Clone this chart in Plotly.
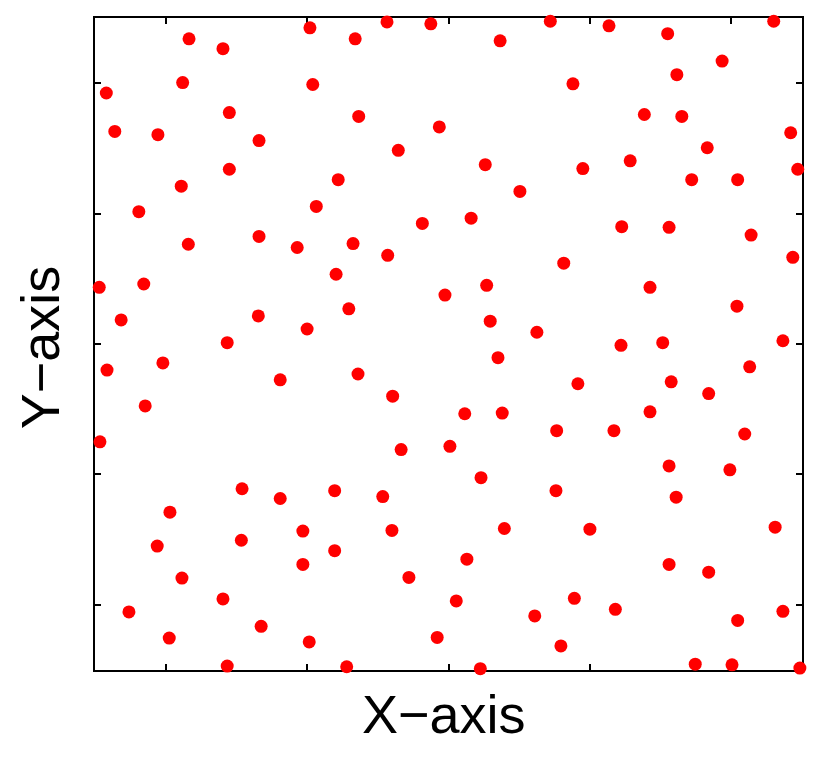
import plotly.graph_objects as go

x_vals = [
    0.133, 0.181, 0.304, 0.368, 0.413, 0.475, 0.573, 0.644, 0.727, 0.810,
    0.960, 0.016, 0.124, 0.308, 0.676, 0.823, 0.887, 0.028, 0.089, 0.190,
    0.232, 0.373, 0.429, 0.487, 0.552, 0.601, 0.690, 0.757, 0.777, 0.830,
    0.866, 0.984, 0.994, 0.844, 0.909, 0.122, 0.190, 0.062, 0.313, 0.344,
    0.132, 0.232, 0.286, 0.365, 0.414, 0.463, 0.532, 0.663, 0.745, 0.812,
    0.928, 0.987, 0.006, 0.069, 0.037, 0.231, 0.300, 0.341, 0.359, 0.495,
    0.554, 0.559, 0.625, 0.785, 0.908, 0.187, 0.017, 0.096, 0.262, 0.372,
    0.421, 0.570, 0.683, 0.744, 0.803, 0.973, 0.926, 0.815, 0.868, 0.071,
    0.007, 0.433, 0.502, 0.523, 0.576, 0.653, 0.734, 0.785, 0.919, 0.546,
    0.652, 0.812, 0.898, 0.822, 0.208, 0.262, 0.339, 0.407, 0.106, 0.088,
    0.207, 0.294, 0.339, 0.294, 0.420, 0.579, 0.526, 0.700, 0.962, 0.812,
    0.868, 0.123, 0.181, 0.048, 0.235, 0.105, 0.303, 0.187, 0.444, 0.511,
    0.678, 0.622, 0.736, 0.484, 0.659, 0.356, 0.545, 0.973, 0.909, 0.849,
    0.901, 0.997,
]

y_vals = [
    0.968, 0.953, 0.985, 0.968, 0.994, 0.991, 0.965, 0.995, 0.988, 0.976,
    0.995, 0.885, 0.901, 0.898, 0.899, 0.913, 0.934, 0.826, 0.821, 0.855,
    0.812, 0.849, 0.797, 0.833, 0.775, 0.734, 0.769, 0.781, 0.852, 0.849,
    0.801, 0.824, 0.768, 0.752, 0.752, 0.742, 0.768, 0.703, 0.711, 0.752,
    0.653, 0.665, 0.648, 0.654, 0.636, 0.685, 0.693, 0.624, 0.680, 0.679,
    0.667, 0.633, 0.587, 0.592, 0.537, 0.543, 0.523, 0.607, 0.554, 0.575,
    0.590, 0.535, 0.518, 0.587, 0.558, 0.502, 0.460, 0.471, 0.445, 0.454,
    0.420, 0.479, 0.439, 0.498, 0.502, 0.505, 0.465, 0.442, 0.424, 0.405,
    0.350, 0.338, 0.343, 0.393, 0.394, 0.367, 0.367, 0.396, 0.362, 0.295,
    0.275, 0.313, 0.307, 0.265, 0.278, 0.263, 0.275, 0.266, 0.242, 0.190,
    0.199, 0.213, 0.183, 0.162, 0.214, 0.217, 0.170, 0.216, 0.219, 0.162,
    0.150, 0.141, 0.109, 0.089, 0.067, 0.049, 0.043, 0.006, 0.142, 0.106,
    0.110, 0.083, 0.093, 0.050, 0.037, 0.005, 0.002, 0.090, 0.076, 0.009,
    0.008, 0.003,
]

tick_vals = [0.1, 0.3, 0.5, 0.7, 0.9]
x_label = "X\u2212axis"
y_label = "Y\u2212axis"

FONT = "Liberation Sans, Arial, Helvetica, sans-serif"

fig = go.Figure()
fig.add_trace(go.Scatter(
    x=x_vals, y=y_vals, mode="markers",
    marker=dict(color="#ff0000", size=13, line=dict(width=0)),
    cliponaxis=False, showlegend=False, hoverinfo="skip",
))

axis_common = dict(
    range=[0, 1], tickvals=tick_vals, showticklabels=False,
    ticks="inside", ticklen=6, tickwidth=1.5, tickcolor="black",
    showline=True, linecolor="black", linewidth=2, mirror="ticks",
    showgrid=False, zeroline=False, layer="below traces",
)

fig.update_layout(
    width=830, height=759,
    margin=dict(l=87, r=36, t=8, b=97, pad=0),
    paper_bgcolor="white", plot_bgcolor="white",
    xaxis=axis_common, yaxis=axis_common,
    font=dict(family=FONT, color="black"),
    annotations=[
        dict(text=x_label, xref="paper", yref="paper", x=0.4936, y=-0.068,
             xanchor="center", yanchor="middle", showarrow=False,
             font=dict(size=54, family=FONT, color="black")),
        dict(text=y_label, xref="paper", yref="paper", x=-0.0778, y=0.495,
             xanchor="center", yanchor="middle", showarrow=False, textangle=-90,
             font=dict(size=54, family=FONT, color="black")),
    ],
)

fig.write_html("out.html")
